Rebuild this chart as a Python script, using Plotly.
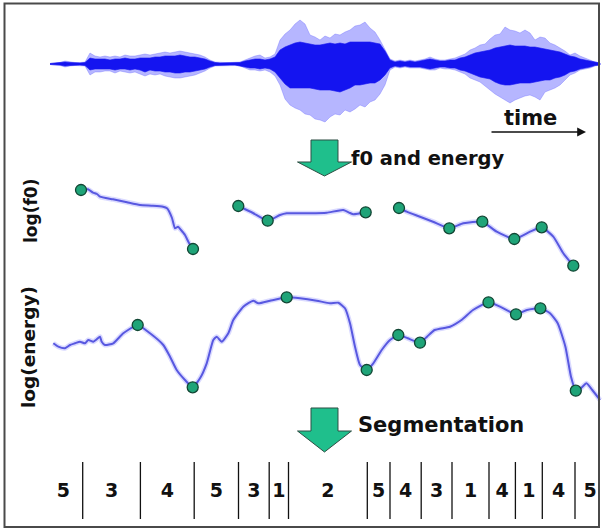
import plotly.graph_objects as go

W, H = 603, 531

# ---------------- data ----------------
# speech waveform envelope (time in px-units, amplitude units)
wave_t = list(range(50, 601, 5))
light_up = [.5,1,1.5,3,2,1.5,1.5,2,11,8,7,8,7,8,7,9,8,8,9,10,9,10,11,12,11,12,13,12,11,10,
            9,7,4,2,1.5,1.5,1.5,1.5,2,4,6,8,9,6,7,10,24,30,34,40,44,40,29,27,24,28,26,30,29,32,
            34,38,39,42,36,32,24,14,5,3,4,3,4,3,4,5,7,5,4,4,5,6,8,10,14,16,19,20,25,29,
            30,37,34,33,31,34,31,24,27,26,21,19,16,13,9,11,8,6,4,2,1]
light_dn = [.5,1,1.5,3,2,1.5,1.5,2,11,8,8,7,7,9,7,8,9,8,10,12,10,11,10,12,13,14,14,13,12,11,
            9,7,4,2,1.5,1.5,1.5,1.5,2,4,6,6,7,6,8,12,21,35,41,44,46,50,51,55,56,58,53,50,51,46,
            48,45,41,43,38,36,30,21,6,3,4,3,4,4,4,5,6,6,4,5,5,6,8,10,14,16,18,22,26,30,
            33,36,39,36,34,32,31,33,36,28,26,24,21,16,11,9,6,5,4,2,1]
dark_up = [.5,.8,1,2,1.5,1,1,1.5,6,5,5,5,4,5,5,6,5,5,6,6,6,7,7,8,8,8,9,8,7,7,
           6,5,3,1.5,1,1,1,1,1.5,3,4,5,5,4,5,7,14,17,19,21,22,21,20,19,19,20,21,20,21,20,
           22,22,22,22,22,21,20,13,4,2,3,2,3,2,3,4,5,4,3,3,4,4,6,7,9,11,12,13,14,16,
           17,18,19,18,18,18,17,17,16,15,14,13,12,10,8,7,5,4,3,1.5,1]
dark_dn = [.5,.8,1,2,1.5,1,1,1.5,6,5,5,5,5,6,5,5,6,5,6,8,6,7,7,8,8,9,9,8,8,7,
           6,5,3,1.5,1,1,1,1,1.5,3,4,4,5,4,5,8,14,20,24,24,24,24,24,25,26,26,26,27,28,26,
           24,21,21,20,19,19,16,11,4,2,3,2,3,3,3,4,5,4,3,3,4,4,6,7,9,11,13,14,15,18,
           20,21,21,20,19,19,19,18,17,16,16,14,13,11,8,7,5,4,3,1.5,1]

# log(f0) contour (None = unvoiced gap)
f0_t = [81,88,93,97,100,113,127,140,153,163,167,172,175,178,181,185,189,193, None,
        238.3,253,267.7,280,286.7,310,326.7,343.3,350,353.3,365.7, None,
        399,406.7,420,433,449.3,463.3,482.3,496.7,514.3,530,541.7,553.3,563.3,573.3]
f0_v = [90,90.7,87.3,86,83.3,80.7,77.7,75,74.3,73.3,71.7,62,51.7,53.3,50,45,37,31, None,
        74,67,59.3,65,66.7,66.7,67.3,70,67,65.7,67.7, None,
        72,68.3,63.3,58.3,51.7,56.7,58.3,48.3,41,48.3,52.7,43.3,26.7,14.3]
f0_dot_t = [81,193,238.3,267.7,365.7,399,449.3,482.3,514.3,541.7,573.3]
f0_dot_v = [90,31,74,59.3,67.7,72,51.7,58.3,41,52.7,14.3]

# log(energy) contour
en_t = [53.3,58.3,65,70,75,80,85,88.3,93.3,96.7,100,101.7,105,113.3,123.3,137.7,150,163.3,170,176.7,
        185,192.7,200,206.7,213.3,216.7,221.7,228.3,233.3,243.3,253.3,258.3,270,286.7,300,316.7,330,338.3,345,350,
        355,360,366.7,373.3,381.7,390,398.3,407.7,420,427,434.6,450,461.5,473,488.5,500,516,527,540.4,550,
        557.7,565.4,571,575.8,580.8,586.5,592.3,600]
en_v = [66.7,63.3,61.7,65,66.7,68.3,66.7,70,68.3,70.7,73.3,68.3,65,66.7,76.7,85,76.7,65,53.3,40,
        30,22.7,31.7,46.7,70,73.3,68.3,76.7,90,103.3,109.3,106.7,109.3,112.7,111.7,109.3,106.7,107.3,101.7,86.7,
        63.3,45,40,46.7,60,70,75,71.7,67.3,73.3,80,83.3,90,100,107.7,103.3,95.7,100,101.7,96.7,
        86.7,63.3,33.3,19.3,21.7,26.7,20,10]
en_dot_t = [137.7,192.7,286.7,366.7,398.3,420,488.5,516,540.4,575.8]
en_dot_v = [85,22.7,112.7,40,75,67.3,107.7,95.7,101.7,19.3]

# segmentation
seg_edges = [44,82.7,140.4,194.2,238.5,269.2,288.5,367.3,390,421.2,452,489,515.4,542.3,575,605]
seg_labels = ["5","3","4","5","3","1","2","5","4","3","1","4","1","4","5"]

# ---------------- figure ----------------
def py(p):  # pixel row -> paper y
    return 1 - p / H

def pp(x, y):
    return f"{x / W:.5f},{py(y):.5f}"

LINE = "#5858e0"
HALO = "rgba(150,150,255,0.35)"
DOT = "#1fa478"
DOT_EDGE = "#124634"
ARROW = "#1fbf8c"
FONT = "DejaVu Sans"

fig = go.Figure()

# waveform
fig.add_trace(go.Scatter(
    x=wave_t + wave_t[::-1], y=light_up + [-v for v in light_dn[::-1]],
    fill="toself", fillcolor="rgba(80,80,255,0.42)", mode="lines",
    line=dict(width=0.6, color="rgba(80,80,255,0.5)"), yaxis="y", hoverinfo="skip"))
fig.add_trace(go.Scatter(
    x=wave_t + wave_t[::-1], y=dark_up + [-v for v in dark_dn[::-1]],
    fill="toself", fillcolor="#1414f0", mode="lines",
    line=dict(width=0.6, color="#1414f0"), yaxis="y", hoverinfo="skip"))

# f0
fig.add_trace(go.Scatter(x=f0_t, y=f0_v, mode="lines", yaxis="y2", connectgaps=False,
                         line=dict(color=HALO, width=5, shape="spline", smoothing=0.5)))
fig.add_trace(go.Scatter(x=f0_t, y=f0_v, mode="lines", yaxis="y2", connectgaps=False,
                         line=dict(color=LINE, width=2, shape="spline", smoothing=0.5)))
fig.add_trace(go.Scatter(x=f0_dot_t, y=f0_dot_v, mode="markers", yaxis="y2",
                         marker=dict(size=11, color=DOT, line=dict(color=DOT_EDGE, width=1.3))))

# energy
fig.add_trace(go.Scatter(x=en_t, y=en_v, mode="lines", yaxis="y3",
                         line=dict(color=HALO, width=5, shape="spline", smoothing=0.5)))
fig.add_trace(go.Scatter(x=en_t, y=en_v, mode="lines", yaxis="y3",
                         line=dict(color=LINE, width=2, shape="spline", smoothing=0.5)))
fig.add_trace(go.Scatter(x=en_dot_t, y=en_dot_v, mode="markers", yaxis="y3",
                         marker=dict(size=11, color=DOT, line=dict(color=DOT_EDGE, width=1.3))))

# segmentation bars and labels
bx, by = [], []
for e in seg_edges[1:-1]:
    bx += [e, e, None]
    by += [12, 69, None]
fig.add_trace(go.Scatter(x=bx, y=by, mode="lines", yaxis="y4",
                         line=dict(color="#111111", width=1.3)))
mids = [(a + b) / 2 for a, b in zip(seg_edges[:-1], seg_edges[1:])]
fig.add_trace(go.Scatter(x=mids, y=[39] * len(mids), mode="text", text=seg_labels, yaxis="y4",
                         textfont=dict(family=FONT, size=19, color="#111111", weight="bold")))

# green arrows + border
def arrow_path(top, neck, tip):
    cx = 324.5
    pts = [(cx - 13.5, top), (cx + 13.5, top), (cx + 13.5, neck), (cx + 27, neck),
           (cx, tip), (cx - 27, neck), (cx - 13.5, neck)]
    return "M " + " L ".join(pp(x, y) for x, y in pts) + " Z"

shapes = [
    dict(type="rect", xref="paper", yref="paper", x0=4.5 / W, x1=599 / W, y0=py(527), y1=py(3.5),
         line=dict(color="#4a4a4a", width=2), fillcolor="rgba(0,0,0,0)", layer="above"),
    dict(type="path", xref="paper", yref="paper", path=arrow_path(140, 162, 176),
         fillcolor=ARROW, line=dict(color="#2f4f44", width=1)),
    dict(type="path", xref="paper", yref="paper", path=arrow_path(408, 431, 452),
         fillcolor=ARROW, line=dict(color="#2f4f44", width=1)),
]

def txt(text, x, y, size, xanchor="left", angle=0):
    return dict(text=text, x=x / W, y=py(y), xref="paper", yref="paper", showarrow=False,
                xanchor=xanchor, yanchor="middle", textangle=angle,
                font=dict(family=FONT, size=size, color="#111111", weight="bold"))

annotations = [
    txt("f0 and energy", 349, 158, 19.5),
    txt("Segmentation", 356, 425, 21),
    txt("time", 530, 118, 21, xanchor="center"),
    txt("log(f0)", 31, 211, 17, xanchor="center", angle=-90),
    txt("log(energy)", 28, 347, 18.5, xanchor="center", angle=-90),
    dict(x=586 / W, y=py(132), xref="paper", yref="paper", ax=-96, ay=0,
         axref="pixel", ayref="pixel", text="", showarrow=True,
         arrowhead=2, arrowsize=1.1, arrowwidth=1.6, arrowcolor="#111111"),
]

hid = dict(visible=False, fixedrange=True, showgrid=False, zeroline=False)
fig.update_layout(
    width=W, height=H, margin=dict(l=0, r=0, t=0, b=0),
    paper_bgcolor="white", plot_bgcolor="rgba(0,0,0,0)", showlegend=False,
    xaxis=dict(range=[0, W], domain=[0, 1], **hid),
    yaxis=dict(domain=[py(150), 1], range=[-86, 64], anchor="x", **hid),
    yaxis2=dict(domain=[py(280), py(170)], range=[0, 110], anchor="x", **hid),
    yaxis3=dict(domain=[py(410), py(280)], range=[0, 130], anchor="x", **hid),
    yaxis4=dict(domain=[0, py(455)], range=[0, 76], anchor="x", **hid),
    shapes=shapes, annotations=annotations,
)

fig.write_html("out.html")
